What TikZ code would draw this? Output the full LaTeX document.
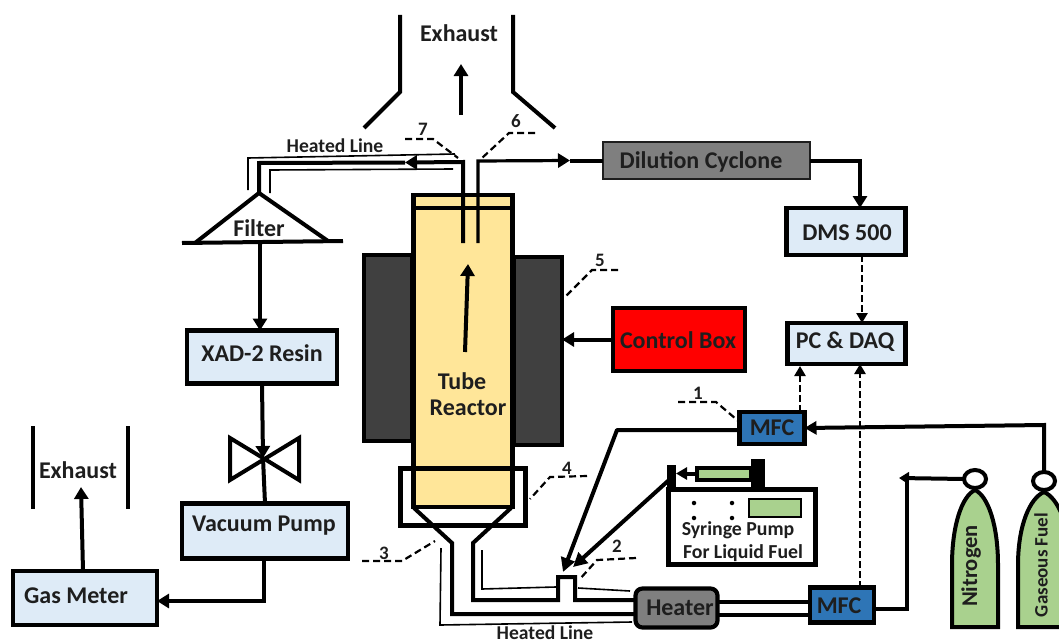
\documentclass[tikz,border=0pt]{standalone}
\usepackage{fontspec}
\setmainfont{Carlito}
\usetikzlibrary{arrows.meta,calc,shapes.geometric}
\definecolor{tubefill}{HTML}{FFE699}
\definecolor{paleblue}{HTML}{DEEBF7}
\definecolor{cylgreen}{HTML}{A9D18E}
\definecolor{mfcblue}{HTML}{2E75B6}
\definecolor{midgrey}{HTML}{7F7F7F}
\definecolor{furnace}{HTML}{404040}
\definecolor{ink}{HTML}{1E1E1E}
\tikzset{
  every node/.style={font=\bfseries\fontsize{24}{28}\selectfont,text=ink,inner sep=0pt,outer sep=0pt},
  boxed/.style={draw=black,line width=4.2pt,rectangle,align=center},
  pale/.style={boxed,fill=paleblue},
  pipe/.style={draw=black,line width=4pt},
  flow/.style={pipe,-{Triangle[length=12pt,width=14pt]}},
  signal/.style={draw=black,line width=2.6pt,dash pattern=on 7pt off 3pt,-{Triangle[length=10pt,width=11pt]}},
  heated/.style={draw=black,line width=1.6pt},
  leader/.style={draw=black,line width=2.2pt,dash pattern=on 7pt off 4pt},
  num/.style={font=\bfseries\fontsize{19}{22}\selectfont},
  small/.style={font=\bfseries\fontsize{19.6}{22}\selectfont},
  pumptext/.style={font=\bfseries\fontsize{19.8}{22}\selectfont},
  cyl/.style={draw=black,line width=4pt,fill=cylgreen},
  neck/.style={draw=black,line width=4pt,fill=white,ellipse,minimum width=22pt,minimum height=18pt},
}
\begin{document}
\begin{tikzpicture}[x=1pt,y=-1pt]
\useasboundingbox (0,0) rectangle (1059,642);
\clip (0,0) rectangle (1059,642);

% furnace and reactor
\node[boxed,fill=furnace,minimum width=48pt,minimum height=186pt] (furnL) at (388,348) {};
\node[boxed,fill=furnace,minimum width=48pt,minimum height=188pt] (furnR) at (538,351) {};
\node[boxed,fill=tubefill,minimum width=99pt,minimum height=312pt] (tube) at (463,351) {};
\draw[line width=4pt] (tube.west |- 0,208) -- (tube.east |- 0,208);
\node[boxed,minimum width=125pt,minimum height=57pt] (collar) at (463,497) {};

% exhaust hood
\coordinate (hoodLa) at (400,15);
\coordinate (hoodLb) at (400,92);
\coordinate (hoodLc) at (364,128);
\coordinate (hoodRa) at (513,15);
\coordinate (hoodRb) at (513,92);
\coordinate (hoodRc) at (555,128);
\draw[pipe] (hoodLa) -- (hoodLb) -- (hoodLc);
\draw[pipe] (hoodRa) -- (hoodRb) -- (hoodRc);
\node (exhaustTop) at (459,33) {Exhaust};
\coordinate (hoodArrowA) at (461,115);
\coordinate (hoodArrowB) at (461,64);
\draw[flow] (hoodArrowA) -- (hoodArrowB);

% boxes
\node[draw=ink,line width=1.6pt,fill=midgrey,minimum width=207pt,minimum height=37pt] (cyclone) at (706.5,160.5) {};
\node (cycloneT) at (701,162) {Dilution Cyclone};
\node[pale,minimum width=119pt,minimum height=47pt] (dms) at (846,231.5) {};
\node (dmsT) at (847,233) {DMS 500};
\node[pale,minimum width=118pt,minimum height=41pt] (pc) at (846.5,343.5) {};
\node (pcT) at (845,342) {PC \& DAQ};
\node[boxed,fill=red,minimum width=132pt,minimum height=63pt] (control) at (679,339.5) {};
\node (controlT) at (678,340) {Control Box};
\node[pale,minimum width=150pt,minimum height=53pt] (xad) at (262,357) {};
\node (xadT) at (262,353) {XAD-2 Resin};
\node[pale,minimum width=166pt,minimum height=55pt] (vac) at (265,531) {};
\node (vacT) at (264,526) {Vacuum Pump};
\node[pale,minimum width=144pt,minimum height=54pt] (meter) at (85,598) {};
\node (meterT) at (76,596) {Gas Meter};
\node[boxed,fill=mfcblue,minimum width=65pt,minimum height=32pt] (mfcA) at (772,428) {};
\node (mfcAT) at (772,428) {MFC};
\node[boxed,fill=mfcblue,minimum width=64pt,minimum height=35pt] (mfcB) at (842,605) {};
\node (mfcBT) at (839,606) {MFC};
\node[boxed,fill=midgrey,rounded corners=7pt,minimum width=82pt,minimum height=39pt] (heater) at (676.5,608) {};
\node (heaterT) at (680,608) {Heater};

% filter
\coordinate (apex) at (259,193);
\coordinate (filtL) at (195,243);
\coordinate (filtR) at (328,241);
\coordinate (baseL) at (182,243);
\coordinate (baseR) at (343,241);
\draw[pipe,line join=miter] (filtL) -- (apex) -- (filtR);
\draw[pipe] (baseL) -- (baseR);
\node (filter) at (259,228) {Filter};

% sampling lines
\coordinate (p7) at (463,243);
\coordinate (p7top) at (463,162);
\coordinate (p7mid) at (405,162.5);
\coordinate (p7corner) at (259,163);
\coordinate (p6) at (478,243);
\coordinate (p6top) at (478,161);
\coordinate (p6mid) at (570,160.5);
\draw[flow] (p7) -- (p7top) -- (p7mid);
\draw[pipe,line join=miter] (p7mid) -- (p7corner) -- (apex);
\draw[flow,line width=3.2pt] (p6) -- (p6top) -- (p6mid);
\draw[pipe] (p6mid) -- (cyclone.west);
\coordinate (cycTurn) at (860,160.5);
\draw[flow] (cyclone.east) -- (cycTurn) -- (cycTurn |- dms.north);
\draw[signal] (dms.south -| 862,0) -- (pc.north -| 862,0);

% heated sheaths, top
\coordinate (hA) at (248,190);
\coordinate (hB) at (248,158);
\coordinate (hC) at (455,154);
\coordinate (hD) at (270,193);
\coordinate (hE) at (270,170);
\coordinate (hF) at (453,169);
\draw[heated] (hA) -- (hB) -- (hC);
\draw[heated] (hD) -- (hE) -- (hF);
\node[small] (hlTop) at (335,146) {Heated Line};

% left train
\coordinate (filtOut) at (260,243);
\draw[flow] (filtOut) -- (filtOut |- xad.north);
\coordinate (valveC) at (263,458);
\coordinate (vNW) at (230,438);
\coordinate (vSW) at (230,480);
\coordinate (vNE) at (299,438);
\coordinate (vSE) at (299,480);
\draw[pipe,line join=miter] (valveC) -- (vNW) -- (vSW) -- (vNE) -- (vSE) -- cycle;
\draw[flow] (xad.south) -- (valveC);
\draw[pipe] (valveC) -- (vac.north -| 265,0);
\coordinate (vacTurn) at (264,601);
\draw[flow] (vac.south -| vacTurn) -- (vacTurn) -- (meter.east |- vacTurn);
\coordinate (exh2) at (81,487);
\draw[flow] (meter.north -| 83,0) -- (exh2);
\coordinate (exA) at (33,426);
\coordinate (exB) at (33,509);
\coordinate (exC) at (128,426);
\coordinate (exD) at (128,509);
\draw[pipe] (exA) -- (exB);
\draw[pipe] (exC) -- (exD);
\node (exhaustLow) at (78,470) {Exhaust};

% tube arrow and text
\coordinate (tubeA) at (465,352);
\coordinate (tubeB) at (468,264);
\draw[flow] (tubeA) -- (tubeB);
\node (tubeT) at (462,381) {Tube};
\node (tubeR) at (468,408) {Reactor};
\draw[flow] (control.west) -- (furnR.east |- control.west);

% funnel and feed lines
\coordinate (fL0) at (414,508);
\coordinate (fL1) at (452,543);
\coordinate (fL2) at (452,614);
\coordinate (fR0) at (511,508);
\coordinate (fR1) at (473,543);
\coordinate (fR2) at (473,600);
\coordinate (t1) at (558,600);
\coordinate (t2) at (558,577);
\coordinate (t3) at (575,577);
\coordinate (t4) at (575,600);
\draw[pipe,line join=miter] (fL0) -- (fL1) -- (fL2) -- (fL2 -| heater.west);
\draw[pipe,line join=miter] (fR0) -- (fR1) -- (fR2) -- (t1) -- (t2) -- (t3) -- (t4) -- (t4 -| heater.west);
% heated sheaths, bottom
\coordinate (hG) at (441,548);
\coordinate (hH) at (440,625);
\coordinate (hI) at (632,622);
\coordinate (hJ) at (482,550);
\coordinate (hK) at (482,589);
\coordinate (hL) at (556,587);
\coordinate (hM) at (578,588);
\coordinate (hN) at (630,591);
\draw[heated] (hG) -- (hH) -- (hI);
\draw[heated] (hJ) -- (hK) -- (hL);
\draw[heated] (hM) -- (hN);
\node[small] (hlBot) at (545,632.5) {Heated Line};

% double line heater to MFC
\draw[pipe] (heater.east |- 0,602) -- (mfcB.west |- 0,602);
\draw[pipe] (heater.east |- 0,615) -- (mfcB.west |- 0,615);

% MFC A feeds
\coordinate (mA1) at (617,430);
\coordinate (mA2) at (563,572);
\draw[pipe,line join=round,-{Triangle[length=14pt,width=14pt]}] (mfcA.west |- mA1) -- (mA1) -- (mA2);
\draw[signal] (mfcA.north -| 800,0) -- (800,366);
\draw[signal] (mfcB.north -| 860,0) -- (pc.south -| 860,0);

% syringe pump
\node[boxed,minimum width=147pt,minimum height=75pt] (pump) at (742,527) {};
\node[draw=black,line width=1.6pt,fill=cylgreen,minimum width=52pt,minimum height=18pt] (screen) at (775,508) {};
\node[fill=black,minimum width=9pt,minimum height=25pt] (syrStop) at (671.5,477.5) {};
\node[draw=black,line width=4pt,fill=cylgreen,minimum width=54pt,minimum height=12pt] (syrBody) at (724,473.5) {};
\node[fill=black,minimum width=14pt,minimum height=30pt] (syrBlock) at (758,474) {};
\draw[pipe,-{Triangle[length=11pt,width=12pt]}] (syrBody.west) -- (syrStop.east |- syrBody.west);
\coordinate (syrOut) at (669,480);
\coordinate (syrTip) at (573,567);
\draw[pipe,-{Triangle[length=14pt,width=14pt]}] (syrOut) -- (syrTip);
\foreach \x/\y/\n in {694/503/a,732/503/b,694/518/c,732/518/d}
  \node[fill=black,circle,minimum size=4.5pt] (dot\n) at (\x,\y) {};
\node[pumptext] (pumpA) at (738,530) {Syringe Pump};
\node[pumptext] (pumpB) at (743,553) {For Liquid Fuel};

% cylinders
\draw[cyl] (952,627) -- (952,565) .. controls (952,525) and (962,496) .. (975,490)
   .. controls (988,496) and (998,525) .. (998,565) -- (998,627) -- cycle;
\draw[cyl] (1018,627) -- (1018,565) .. controls (1018,525) and (1030,498) .. (1044,492)
   .. controls (1058,498) and (1070,525) .. (1070,565) -- (1070,627) -- cycle;
\node[neck] (neckN) at (975,479) {};
\node[neck] (neckG) at (1044,481) {};
\coordinate (n2end) at (899,478);
\coordinate (n2corner) at (907,609);
\coordinate (n2up) at (907,478);
\draw[pipe,-{Triangle[length=10pt,width=12pt]}] (neckN.west) -- (n2end);
\draw[pipe,line join=miter] (mfcB.east |- n2corner) -- (n2corner) -- (n2up);
\coordinate (g2) at (1044,425);
\draw[pipe,line join=miter,-{Triangle[length=12pt,width=13pt]}] (neckG.north) -- (g2) -- (mfcA.east |- 0,428);
\node[rotate=90,font=\bfseries\fontsize{22.5}{26}\selectfont] (nit) at (971,566) {Nitrogen};
\node[rotate=90,font=\bfseries\fontsize{19}{22}\selectfont] (gas) at (1041,565) {Gaseous Fuel};

% numbered leaders
\node[num] (n1) at (698,393) {1};
\draw[leader] (678,402) -- (716,402) -- (mfcA.west |- 0,422);
\node[num] (n2) at (617,546) {2};
\draw[leader] (636,558) -- (597,560) -- (579,580);
\node[num] (n3) at (384,553) {3};
\draw[leader] (362,561) -- (402,561) -- (435,541);
\node[num] (n4) at (567,468) {4};
\draw[leader] (587,476) -- (550,477) -- (530,499);
\node[num] (n5) at (600,260) {5};
\draw[leader] (618,270) -- (592,270) -- (565,297);
\node[num] (n6) at (516,121) {6};
\draw[leader] (535,133) -- (509,133) -- (482,158);
\node[num] (n7) at (423,129) {7};
\draw[leader] (405,139) -- (433,139) -- (458,158);
\end{tikzpicture}
\end{document}
